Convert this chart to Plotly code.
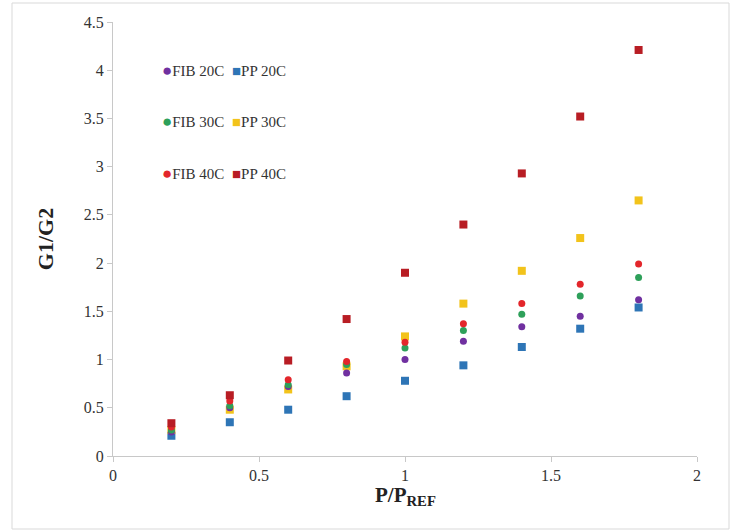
import plotly.graph_objects as go

x_vals = [0.2, 0.4, 0.6, 0.8, 1.0, 1.2, 1.4, 1.6, 1.8]

fib_20c = [0.25, 0.50, 0.72, 0.86, 1.00, 1.19, 1.34, 1.45, 1.62]
fib_30c = [0.27, 0.52, 0.74, 0.95, 1.12, 1.30, 1.47, 1.66, 1.85]
fib_40c = [0.30, 0.57, 0.79, 0.98, 1.18, 1.37, 1.58, 1.78, 1.99]
pp_20c = [0.21, 0.35, 0.48, 0.62, 0.78, 0.94, 1.13, 1.32, 1.54]
pp_30c = [0.27, 0.48, 0.69, 0.93, 1.24, 1.58, 1.92, 2.26, 2.65]
pp_40c = [0.34, 0.63, 0.99, 1.42, 1.90, 2.40, 2.93, 3.52, 4.21]

series_names = ["FIB 20C", "PP 20C", "FIB 30C", "PP 30C", "FIB 40C", "PP 40C"]
series_values = [fib_20c, pp_20c, fib_30c, pp_30c, fib_40c, pp_40c]
series_colors = ["#7030A0", "#2E75B6", "#2EA05A", "#F2C31B", "#E3262B", "#B81D24"]
series_symbols = ["circle", "square", "circle", "square", "circle", "square"]

x_ticks = [0, 0.5, 1, 1.5, 2]
y_ticks = [0, 0.5, 1, 1.5, 2, 2.5, 3, 3.5, 4, 4.5]

SERIF = "Times New Roman, Liberation Serif, serif"

fig = go.Figure()
# draw order: put PP 40C on top like the reference
order = [1, 3, 0, 2, 4, 5]
for i in order:
    fig.add_trace(go.Scatter(
        x=x_vals, y=series_values[i], mode="markers", name=series_names[i],
        marker=dict(color=series_colors[i], symbol=series_symbols[i],
                    size=8 if series_symbols[i] == "square" else 7,
                    line=dict(width=0)),
        showlegend=False,
    ))

# manual legend (3 rows x 2 columns) as text annotations
annotations = []
row_y = [0.888, 0.770, 0.650]
col_x = [0.080, 0.201]
for i, name in enumerate(series_names):
    r, c = divmod(i, 2)
    glyph = "●" if series_symbols[i] == "circle" else "■"
    gsize = 17 if series_symbols[i] == "circle" else 15
    annotations.append(dict(
        xref="paper", yref="paper", x=col_x[c], y=row_y[r],
        xanchor="left", yanchor="middle", showarrow=False,
        text=f"<span style='color:{series_colors[i]};font-size:{gsize}px'>{glyph}</span>{name}",
        font=dict(family=SERIF, size=15, color="#333333"),
    ))

# x-axis title placed as annotation for precise vertical position
annotations.append(dict(
    xref="paper", yref="paper", x=0.5, y=(456 - 481) / 434,
    xanchor="center", yanchor="top", showarrow=False,
    text="<b>P/P<sub>REF</sub></b>",
    font=dict(family=SERIF, size=21, color="#222222"),
))

fig.update_layout(
    width=732, height=531,
    margin=dict(l=113, r=35, t=22, b=75),
    paper_bgcolor="white", plot_bgcolor="white",
    annotations=annotations,
    shapes=[dict(type="rect", xref="paper", yref="paper",
                 x0=(12 - 113) / 584, x1=(729 - 113) / 584,
                 y0=(456 - 529) / 434, y1=(456 - 3) / 434,
                 line=dict(color="#d9d9d9", width=1), layer="below")],
    xaxis=dict(
        range=[0, 2], tickvals=x_ticks, ticktext=[f"{v:g}" for v in x_ticks],
        showgrid=False, zeroline=False, showline=True, linecolor="#c8c8c8",
        ticks="outside", ticklen=5, tickcolor="#c8c8c8",
        tickfont=dict(family=SERIF, size=16, color="#333333"),
    ),
    yaxis=dict(
        range=[0, 4.5], tickvals=y_ticks, ticktext=[f"{v:g}" for v in y_ticks],
        showgrid=False, zeroline=False, showline=True, linecolor="#c8c8c8",
        ticks="outside", ticklen=5, tickcolor="#c8c8c8",
        tickfont=dict(family=SERIF, size=16, color="#333333"),
        title=dict(text="<b>G1/G2</b>", standoff=24,
                   font=dict(family=SERIF, size=22, color="#222222")),
    ),
)

fig.write_html("out.html")
